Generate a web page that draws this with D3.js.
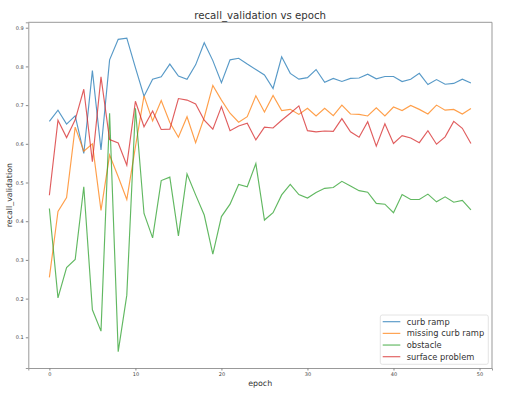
<!DOCTYPE html>
<html>
<head>
    <title>recall_validation vs epoch</title>
    <script src="https://d3js.org/d3.v7.min.js"></script>
    <style>
        body { margin: 0; background: #fff; }
        text { font-family: "DejaVu Sans", sans-serif; fill: #333; }
        .line { fill: none; stroke-width: 1.15px; stroke-opacity: 0.75; }
        .tick text { font-size: 5px; fill: #444; }
        .tick line { stroke: #888; }
        .domain { stroke: #999; }
    </style>
</head>
<body>
    <script>
        var epochs = d3.range(0, 50);

        var curbRamp = [0.658, 0.687, 0.651, 0.672, 0.575, 0.789, 0.584, 0.817, 0.870, 0.873,
            0.797, 0.723, 0.767, 0.773, 0.806, 0.775, 0.767, 0.804, 0.861, 0.815,
            0.758, 0.817, 0.821, 0.806, 0.792, 0.778, 0.743, 0.825, 0.782, 0.767,
            0.771, 0.792, 0.759, 0.769, 0.761, 0.769, 0.770, 0.780, 0.768, 0.774,
            0.774, 0.761, 0.767, 0.782, 0.753, 0.766, 0.754, 0.756, 0.767, 0.757];

        var missingCurbRamp = [0.255, 0.425, 0.461, 0.643, 0.581, 0.600, 0.428, 0.571, 0.515, 0.456,
            0.592, 0.724, 0.659, 0.712, 0.655, 0.617, 0.670, 0.603, 0.668, 0.751,
            0.713, 0.679, 0.656, 0.670, 0.724, 0.682, 0.725, 0.686, 0.689, 0.676,
            0.692, 0.672, 0.692, 0.673, 0.700, 0.677, 0.676, 0.672, 0.693, 0.672,
            0.695, 0.686, 0.699, 0.689, 0.677, 0.700, 0.687, 0.689, 0.677, 0.691];

        var obstacle = [0.433, 0.202, 0.280, 0.301, 0.489, 0.171, 0.116, 0.679, 0.063, 0.209,
            0.692, 0.420, 0.357, 0.505, 0.514, 0.362, 0.522, 0.468, 0.416, 0.315,
            0.412, 0.444, 0.495, 0.489, 0.549, 0.403, 0.422, 0.468, 0.495, 0.469,
            0.460, 0.474, 0.485, 0.487, 0.503, 0.491, 0.479, 0.475, 0.446, 0.444,
            0.422, 0.469, 0.456, 0.456, 0.470, 0.450, 0.463, 0.449, 0.454, 0.429];

        var surfaceProblem = [0.467, 0.661, 0.616, 0.662, 0.741, 0.554, 0.773, 0.611, 0.602, 0.545,
            0.710, 0.644, 0.685, 0.637, 0.638, 0.717, 0.713, 0.703, 0.661, 0.638,
            0.696, 0.634, 0.646, 0.653, 0.610, 0.643, 0.641, 0.661, 0.679, 0.698,
            0.634, 0.631, 0.633, 0.632, 0.665, 0.631, 0.617, 0.657, 0.594, 0.652,
            0.601, 0.621, 0.615, 0.603, 0.634, 0.599, 0.618, 0.658, 0.640, 0.601];

        var seriesNames = ["curb ramp", "missing curb ramp", "obstacle", "surface problem"];
        var seriesColors = ["#1f77b4", "#ff7f0e", "#2ca02c", "#d62728"];
        var xTicks = [0, 10, 20, 30, 40, 50];
        var yTicks = [0.1, 0.2, 0.3, 0.4, 0.5, 0.6, 0.7, 0.8, 0.9];

        var series = [curbRamp, missingCurbRamp, obstacle, surfaceProblem];

        var width = 516, height = 399;
        var plotLeft = 28.3, plotRight = 492, plotTop = 22.3, plotBottom = 368;

        var svg = d3.select("body").append("svg")
            .attr("width", width)
            .attr("height", height);

        // matplotlib style 5% margins
        var x = d3.scaleLinear().domain([-2.45, 51.45]).range([plotLeft, plotRight]);
        var y = d3.scaleLinear().domain([0.0207, 0.914]).range([plotBottom, plotTop]);

        svg.append("g")
            .attr("transform", "translate(0," + plotBottom + ")")
            .call(d3.axisBottom(x).tickValues(xTicks).tickSize(2.5).tickPadding(2).tickFormat(d3.format("d")));

        svg.append("g")
            .attr("transform", "translate(" + plotLeft + ",0)")
            .call(d3.axisLeft(y).tickValues(yTicks).tickSize(2.5).tickPadding(2).tickFormat(d3.format(".1f")));

        // top and right spines
        svg.append("line").attr("x1", plotLeft).attr("x2", plotRight).attr("y1", plotTop).attr("y2", plotTop)
            .attr("stroke", "#999");
        svg.append("line").attr("x1", plotRight).attr("x2", plotRight).attr("y1", plotTop).attr("y2", plotBottom)
            .attr("stroke", "#999");

        var line = d3.line()
            .x(function(d, i) { return x(epochs[i]); })
            .y(function(d) { return y(d); });

        svg.selectAll(".line")
            .data(series)
            .enter().append("path")
            .attr("class", "line")
            .attr("stroke", function(d, i) { return seriesColors[i]; })
            .attr("d", line);

        svg.append("text")
            .attr("x", (plotLeft + plotRight) / 2)
            .attr("y", 18.5)
            .attr("text-anchor", "middle")
            .style("font-size", "10.2px")
            .text("recall_validation vs epoch");

        svg.append("text")
            .attr("x", (plotLeft + plotRight) / 2)
            .attr("y", 386)
            .attr("text-anchor", "middle")
            .style("font-size", "7.9px")
            .text("epoch");

        svg.append("text")
            .attr("transform", "translate(12," + (plotTop + plotBottom) / 2 + ") rotate(-90)")
            .attr("text-anchor", "middle")
            .style("font-size", "7.9px")
            .text("recall_validation");

        // legend
        var legend = svg.append("g");
        legend.append("rect")
            .attr("x", 380.3).attr("y", 315)
            .attr("width", 108).attr("height", 49.3)
            .attr("rx", 2)
            .attr("fill", "#fff").attr("fill-opacity", 0.8)
            .attr("stroke", "#ddd").attr("stroke-width", 0.8);

        var item = legend.selectAll(".item")
            .data(seriesNames)
            .enter().append("g")
            .attr("class", "item")
            .attr("transform", function(d, i) { return "translate(0," + (321.7 + i * 11.67) + ")"; });

        item.append("line")
            .attr("x1", 382.7).attr("x2", 400.3)
            .attr("stroke-width", 1.15)
            .attr("stroke-opacity", 0.75)
            .attr("stroke", function(d, i) { return seriesColors[i]; });

        item.append("text")
            .attr("x", 406.7)
            .attr("dy", "0.35em")
            .style("font-size", "8.3px")
            .text(function(d) { return d; });
    </script>
</body>
</html>
